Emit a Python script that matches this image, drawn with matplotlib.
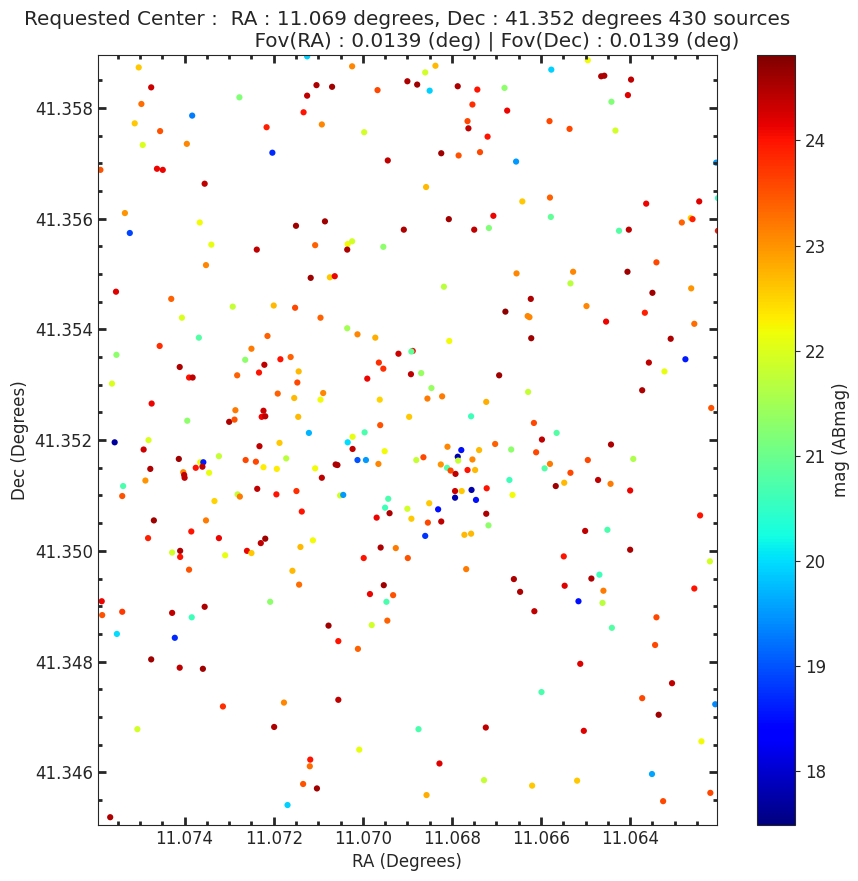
import numpy as np
import matplotlib.pyplot as plt
from matplotlib.ticker import MultipleLocator, FormatStrFormatter

plt.rcParams['font.family'] = ['DejaVu Sans']
for key in ['text.color', 'axes.labelcolor', 'xtick.color', 'ytick.color', 'axes.edgecolor']:
    plt.rcParams[key] = '0.15'

# Field parameters
ra_center = 11.069
dec_center = 41.352
fov = 0.0139
n_sources = 430

# Sources (RA, Dec in degrees, magnitude in ABmag)
ra = [
    # top band
    11.07503, 11.07475, 11.07497, 11.07277, 11.07133, 11.07512, 11.07383, 11.07216, 11.07455, 11.07203,
    11.07494, 11.07395, 11.07589, 11.07462, 11.07449, 11.07355, 11.07534, 11.07523, 11.07366, 11.0734,
    11.0715,
    11.07125, 11.07024, 11.0686, 11.06837, 11.07104, 11.07069, 11.07125, 11.06967, 11.069, 11.06878,
    11.0685, 11.06787, 11.06743, 11.06682, 11.06754, 11.06676, 11.07092, 11.06997, 11.06765, 11.06763,
    11.0672, 11.06944, 11.06824, 11.06785, 11.06737, 11.06858, 11.07085, 11.06807, 11.06707, 11.06908,
    11.0675, 11.06717, 11.07107, 11.07034, 11.07024, 11.06954,
    11.06495, 11.06577, 11.06465, 11.06458, 11.06398, 11.06405, 11.06442, 11.06581, 11.06536, 11.06433,
    11.06656, 11.06207, 11.06642, 11.0658, 11.06578, 11.06364, 11.06245, 11.06203, 11.06284, 11.06264,
    11.0626, 11.06425, 11.06403, 11.06203,
    # upper middle band
    11.07238, 11.07352, 11.07554, 11.0743, 11.07292, 11.072, 11.07152, 11.07406, 11.07368, 11.07214,
    11.07456, 11.0725, 11.07553, 11.07264, 11.07162, 11.07185, 11.07221, 11.07411, 11.0739, 11.07382,
    11.07233, 11.07282, 11.07144, 11.07563, 11.07147, 11.07191, 11.07154, 11.07474, 11.07286, 11.07223,
    11.07394, 11.073, 11.07288, 11.07227, 11.07219, 11.07145, 11.07557, 11.07481,
    11.07035, 11.07117, 11.07074, 11.07063, 11.06818, 11.0668, 11.07095, 11.07035, 11.07012, 11.06972,
    11.06806, 11.0692, 11.06888, 11.06891, 11.06964, 11.06954, 11.0699, 11.06892, 11.06869, 11.06694,
    11.07089, 11.07095, 11.06962, 11.06846, 11.06855, 11.06822, 11.06723, 11.06896, 11.06757, 11.07121,
    11.07023, 11.06996, 11.06961, 11.07034,
    11.06655, 11.06528, 11.06406, 11.06341, 11.06534, 11.06263, 11.0635, 11.06623, 11.06498, 11.0663,
    11.06626, 11.06367, 11.06454, 11.06256, 11.06622, 11.06309, 11.06358, 11.06276, 11.06323, 11.06629,
    11.06373, 11.06218, 11.06616, 11.06565, 11.06598,
    # lower middle band
    11.07187, 11.07232, 11.07492, 11.07413, 11.07323, 11.07263, 11.0724, 11.07172, 11.07477, 11.07375,
    11.07365, 11.07358, 11.0736, 11.07345, 11.07223, 11.07193, 11.07403, 11.07401, 11.074, 11.07488,
    11.07538, 11.0754, 11.07237, 11.07281, 11.07276, 11.07194, 11.07149, 11.07333, 11.07469, 11.07352,
    11.07137, 11.07385, 11.07482, 11.07323, 11.07229, 11.07219, 11.07428, 11.0741, 11.0741, 11.07309,
    11.0726, 11.0725, 11.0714, 11.0739, 11.07158, 11.07143, 11.07586, 11.07585, 11.0754, 11.07428,
    11.07355, 11.07384, 11.07208, 11.07552,
    11.07023, 11.06951, 11.07012, 11.06993, 11.06965, 11.07061, 11.07057, 11.07107, 11.07092, 11.0688,
    11.06864, 11.0681, 11.06779, 11.06739, 11.06703, 11.06667, 11.06787, 11.06754, 11.06786, 11.06825,
    11.06811, 11.06803, 11.06792, 11.06765, 11.06748, 11.06671, 11.07051, 11.07044, 11.06943, 11.0695,
    11.0694, 11.06969, 11.069, 11.06891, 11.06851, 11.06831, 11.06854, 11.06824, 11.06793, 11.06778,
    11.06756, 11.06793, 11.06746, 11.06722, 11.06664, 11.06723, 11.06718, 11.06772, 11.06757, 11.0686,
    11.07112, 11.0696, 11.06926, 11.06998, 11.06899, 11.06768, 11.06953, 11.06984, 11.06932, 11.06947,
    11.06945, 11.0698, 11.07077,
    11.06443, 11.06611, 11.0658, 11.06592, 11.06495, 11.06393, 11.06534, 11.06567, 11.06548, 11.06472,
    11.06444, 11.064, 11.06243, 11.06501, 11.06451, 11.064, 11.06549, 11.06221, 11.06661, 11.06647,
    11.06547, 11.06487, 11.06469, 11.0646, 11.06516, 11.06462, 11.06256, 11.06615, 11.06341, 11.06441,
    # bottom band
    11.07422, 11.07475, 11.07411, 11.07359, 11.07314, 11.07177, 11.07506, 11.07199, 11.07134, 11.07169,
    11.07567,
    11.07055, 11.07011, 11.07055, 11.06875, 11.06724, 11.07008, 11.07118, 11.07119, 11.06828, 11.06728,
    11.07103, 11.06857,
    11.06344, 11.06512, 11.06306, 11.06599, 11.06373, 11.06209, 11.06336, 11.06504, 11.0624, 11.06351,
    11.0662, 11.06519, 11.06326, 11.0622,
]

dec = [
    41.35873, 41.35837, 41.35807, 41.35819, 41.35792, 41.35772, 41.35786, 41.35765, 41.35758, 41.35719,
    41.35733, 41.35735, 41.35688, 41.3569, 41.35688, 41.35663, 41.3561, 41.35574, 41.35593, 41.35553,
    41.35587,
    41.35893, 41.35875, 41.35864, 41.35876, 41.35841, 41.35838, 41.35822, 41.35832, 41.35848, 41.35842,
    41.35831, 41.35839, 41.35833, 41.35836, 41.35806, 41.35795, 41.3577, 41.35756, 41.35776, 41.35763,
    41.35748, 41.35705, 41.35718, 41.35714, 41.3572, 41.35657, 41.35595, 41.35599, 41.35605, 41.3558,
    41.3558, 41.35583, 41.35552, 41.35554, 41.35559, 41.35549,
    41.35886, 41.35869, 41.35857, 41.35858, 41.35851, 41.35823, 41.35811, 41.35776, 41.35762, 41.35759,
    41.35703, 41.35701, 41.35631, 41.35638, 41.35603, 41.35627, 41.35631, 41.35637, 41.35593, 41.35601,
    41.35599, 41.35578, 41.3558, 41.35578,
    41.35544, 41.35516, 41.35468, 41.35455, 41.35441, 41.35443, 41.35439, 41.35421, 41.35385, 41.35388,
    41.3537, 41.35365, 41.35354, 41.35345, 41.3535, 41.35346, 41.35336, 41.35332, 41.35313, 41.35313,
    41.35322, 41.35317, 41.35324, 41.35302, 41.35304, 41.35284, 41.35276, 41.35266, 41.35254, 41.35253,
    41.35235, 41.35233, 41.35237, 41.35242, 41.35243, 41.35242, 41.35196, 41.352,
    41.35544, 41.35493, 41.35494, 41.35496, 41.35477, 41.35432, 41.35421, 41.35402, 41.35391, 41.35385,
    41.35379, 41.35356, 41.35361, 41.3536, 41.3534, 41.35329, 41.35311, 41.35319, 41.35321, 41.35317,
    41.35285, 41.35273, 41.35273, 41.35294, 41.35275, 41.35279, 41.35269, 41.35242, 41.35243, 41.35213,
    41.35206, 41.35214, 41.35227, 41.35196,
    41.35501, 41.35504, 41.35504, 41.35521, 41.35483, 41.35474, 41.35466, 41.35455, 41.35442, 41.35424,
    41.35422, 41.3543, 41.35414, 41.3541, 41.35384, 41.35383, 41.3534, 41.35346, 41.35324, 41.35287,
    41.3529, 41.35258, 41.35231, 41.35213, 41.35201,
    41.35195, 41.35189, 41.35183, 41.35166, 41.35171, 41.35164, 41.35161, 41.35167, 41.35148, 41.3515,
    41.3516, 41.3516, 41.35152, 41.35141, 41.35151, 41.35148, 41.35142, 41.35137, 41.35132, 41.35127,
    41.35117, 41.35099, 41.35112, 41.35102, 41.35098, 41.35102, 41.35108, 41.3509, 41.35055, 41.35055,
    41.35071, 41.35035, 41.35023, 41.35023, 41.35014, 41.35022, 41.34997, 41.35, 41.34989, 41.34992,
    41.35, 41.34996, 41.35007, 41.34966, 41.34964, 41.34939, 41.34909, 41.34884, 41.3489, 41.34888,
    41.34899, 41.3488, 41.34908, 41.3485,
    41.35184, 41.3518, 41.35164, 41.35164, 41.35157, 41.35156, 41.35155, 41.35149, 41.35132, 41.35164,
    41.35169, 41.35188, 41.35182, 41.35182, 41.35193, 41.35183, 41.3517, 41.35165, 41.35163, 41.35156,
    41.3515, 41.35145, 41.35139, 41.35146, 41.35146, 41.35128, 41.351, 41.35101, 41.35094, 41.35078,
    41.35068, 41.3506, 41.35076, 41.35058, 41.35086, 41.35075, 41.35051, 41.35053, 41.35108, 41.35108,
    41.3511, 41.35096, 41.35092, 41.35113, 41.35101, 41.35067, 41.35046, 41.35029, 41.35031, 41.35027,
    41.35019, 41.35006, 41.35005, 41.34987, 41.34987, 41.34967, 41.34938, 41.34922, 41.3492, 41.34908,
    41.34874, 41.34866, 41.34865,
    41.35192, 41.35178, 41.35157, 41.35149, 41.35164, 41.35166, 41.35141, 41.35117, 41.35123, 41.35128,
    41.35121, 41.35109, 41.35064, 41.35036, 41.35038, 41.35002, 41.3499, 41.34981, 41.34949, 41.34926,
    41.34937, 41.3495, 41.34957, 41.34928, 41.34909, 41.34906, 41.34932, 41.34891, 41.3488, 41.34861,
    41.34843, 41.34804, 41.34789, 41.34787, 41.34719, 41.34726, 41.34678, 41.34682, 41.34579, 41.34541,
    41.34519,
    41.34837, 41.34823, 41.34731, 41.34678, 41.34681, 41.34641, 41.34623, 41.34611, 41.34616, 41.34586,
    41.34571, 41.34559,
    41.3483, 41.34796, 41.34761, 41.34745, 41.34734, 41.34723, 41.34704, 41.34675, 41.34656, 41.34597,
    41.34576, 41.34585, 41.34548, 41.34563,
]

mag = [
    22.6, 24.3, 23.3, 21.2, 24.0, 22.6, 19.3, 23.9, 23.5, 18.7,
    22.0, 23.1, 23.5, 24.1, 24.1, 24.4, 23.0, 18.9, 22.2, 22.1,
    24.6,
    19.9, 23.1, 21.9, 22.7, 24.5, 24.6, 24.4, 23.6, 24.5, 24.6,
    19.9, 24.5, 24.0, 21.3, 23.8, 24.1, 23.1, 21.9, 23.6, 24.4,
    24.0, 24.4, 24.6, 23.5, 23.6, 22.7, 24.6, 24.6, 24.1, 24.5,
    24.4, 21.2, 23.4, 22.2, 21.9, 21.3,
    22.2, 19.9, 24.5, 24.5, 24.4, 24.2, 21.2, 23.6, 23.6, 21.9,
    19.5, 19.5, 22.6, 23.4, 20.9, 24.1, 24.2, 20.5, 23.4, 22.5,
    23.9, 20.8, 24.4, 24.0,
    24.4, 23.1, 24.2, 23.4, 21.8, 22.7, 23.6, 22.0, 20.8, 23.4,
    23.8, 23.2, 21.3, 21.3, 23.4, 24.0, 24.4, 24.5, 24.0, 24.4,
    24.0, 23.4, 22.7, 22.0, 23.6, 23.4, 22.7, 24.1, 23.2, 24.3,
    21.3, 24.5, 23.5, 24.1, 24.4, 22.7, 17.7, 22.0,
    24.5, 24.6, 22.6, 24.1, 21.7, 24.7, 23.4, 21.5, 23.1, 22.8,
    22.2, 24.3, 24.1, 20.9, 23.8, 23.8, 24.1, 24.4, 21.4, 24.6,
    23.1, 22.2, 22.5, 21.4, 23.2, 23.2, 22.8, 22.6, 20.6, 19.7,
    22.1, 20.7, 23.5, 20.0,
    23.1, 23.1, 24.6, 23.6, 21.7, 23.0, 24.6, 24.5, 23.1, 23.1,
    23.1, 23.9, 24.1, 23.3, 24.6, 24.5, 24.4, 18.6, 22.1, 21.8,
    24.5, 23.5, 23.6, 20.8, 24.4,
    22.6, 24.4, 24.3, 24.6, 21.8, 23.6, 23.6, 21.7, 24.5, 24.0,
    22.2, 18.6, 24.4, 22.1, 22.3, 22.3, 23.1, 24.4, 24.4, 23.0,
    20.7, 23.5, 24.4, 21.8, 23.2, 24.0, 23.8, 22.5, 24.6, 23.2,
    24.0, 24.0, 23.9, 24.1, 24.4, 24.6, 21.9, 24.5, 24.0, 22.1,
    24.1, 22.6, 22.7, 23.5, 22.7, 23.3, 24.1, 23.5, 23.7, 24.4,
    24.5, 20.6, 21.3, 20.0,
    24.4, 22.2, 19.0, 19.5, 23.1, 24.5, 24.5, 22.2, 24.4, 21.8,
    23.6, 23.1, 18.5, 22.7, 23.4, 21.3, 17.8, 23.1, 21.8, 23.0,
    20.8, 23.6, 24.4, 24.0, 22.7, 20.6, 21.9, 19.5, 20.7, 20.6,
    24.5, 24.1, 21.9, 22.6, 22.6, 18.5, 23.6, 24.4, 24.3, 22.6,
    17.8, 17.8, 18.5, 24.0, 22.2, 24.5, 21.3, 22.7, 22.7, 18.8,
    22.2, 24.5, 23.2, 24.0, 23.5, 23.2, 24.6, 24.1, 23.5, 20.7,
    23.4, 21.9, 24.6,
    24.5, 23.6, 23.2, 20.8, 23.6, 21.6, 23.6, 24.6, 22.7, 24.4,
    23.2, 24.1, 24.0, 24.4, 20.7, 24.5, 24.0, 21.9, 24.5, 24.5,
    24.2, 24.5, 20.6, 23.2, 18.5, 21.7, 24.0, 24.4, 23.6, 20.8,
    18.7, 24.6, 24.4, 24.6, 23.8, 23.1, 21.9, 24.5, 23.5, 19.9,
    24.5,
    24.0, 23.4, 24.4, 20.7, 24.4, 22.1, 24.0, 23.3, 24.2, 21.8,
    24.6, 22.8,
    23.6, 24.2, 24.4, 20.7, 23.6, 19.4, 24.6, 24.2, 22.2, 19.6,
    22.6, 22.6, 23.6, 23.6,
]

mag_min, mag_max = 17.49, 24.81

fig = plt.figure(figsize=(8.58, 8.81), dpi=100)
ax = fig.add_axes([0.1139, 0.0636, 0.7218, 0.8737])
cax = fig.add_axes([0.8823, 0.0636, 0.0443, 0.8737])

sc = ax.scatter(ra, dec, c=mag, cmap='jet', vmin=mag_min, vmax=mag_max,
                s=20, linewidths=0)

ax.set_xlim(ra_center + fov / 2, ra_center - fov / 2)
ax.set_ylim(dec_center - fov / 2, dec_center + fov / 2)

for axis in (ax.xaxis, ax.yaxis):
    axis.set_major_locator(MultipleLocator(0.002))
    axis.set_minor_locator(MultipleLocator(0.0005))
    axis.set_major_formatter(FormatStrFormatter('%.3f'))

ax.tick_params(which='both', direction='in', top=True, right=True, labelsize=12)
ax.tick_params(which='major', length=6, width=2)
ax.tick_params(which='minor', length=3, width=2)

ax.set_xlabel('RA (Degrees)', fontsize=12)
ax.set_ylabel('Dec (Degrees)', fontsize=12)

title = (f'Requested Center :  RA : {ra_center} degrees, Dec : {dec_center} degrees {n_sources} sources\n'
         + ' ' * 28 + f'Fov(RA) : {fov} (deg) | Fov(Dec) : {fov} (deg)')
ax.set_title(title, fontsize=14.4)

cb = fig.colorbar(sc, cax=cax)
cb.set_label('mag (ABmag)', fontsize=12)
cb.ax.tick_params(labelsize=12)

fig.savefig('out.png', dpi=100)
